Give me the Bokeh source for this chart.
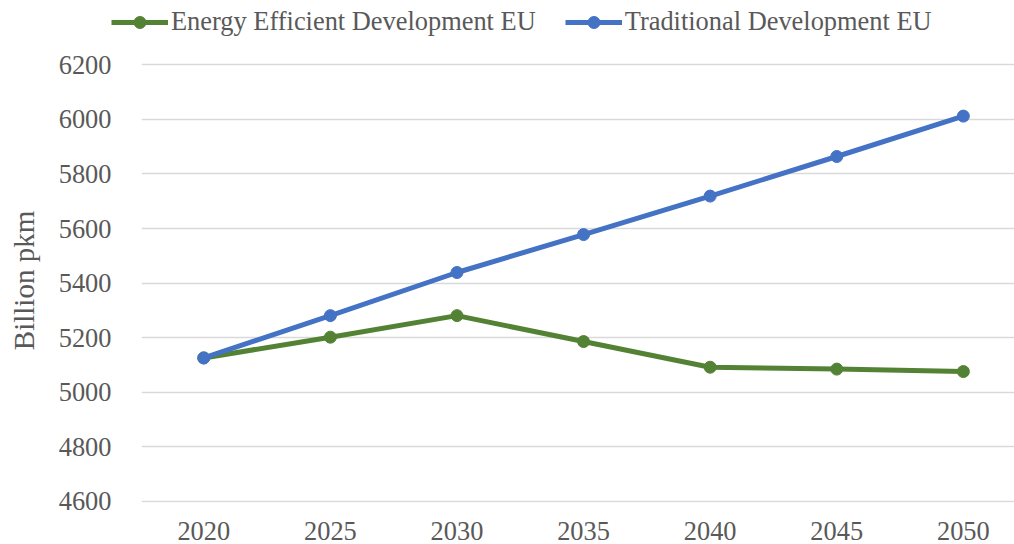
from bokeh.plotting import figure
from bokeh.layouts import column
from bokeh.models import Range1d, FixedTicker, Legend, LegendItem, ColumnDataSource
from bokeh.embed import file_html
from bokeh.resources import INLINE

years = [2020, 2025, 2030, 2035, 2040, 2045, 2050]
energy_efficient = [5126, 5202, 5281, 5186, 5092, 5085, 5076]
traditional = [5126, 5281, 5439, 5578, 5719, 5864, 6012]
y_ticks = [4600, 4800, 5000, 5200, 5400, 5600, 5800, 6000, 6200]
series_names = ["Energy Efficient Development EU", "Traditional Development EU"]

FONT = "Liberation Serif"
TEXT = "#595959"
GREEN = "#548235"
BLUE = "#4472C4"
FS = "26.4px"

src_e = ColumnDataSource(dict(x=years, y=energy_efficient))
src_t = ColumnDataSource(dict(x=years, y=traditional))

# ---- main chart ----
p = figure(width=1014, height=504, output_backend="svg", toolbar_location=None,
           x_range=Range1d(2017.54, 2052.02), y_range=Range1d(4596.3, 6223.1),
           min_border_left=141, min_border_right=0, min_border_top=18, min_border_bottom=42)
p.frame_align = False
p.outline_line_color = None
p.background_fill_color = "white"
p.border_fill_color = "white"

p.line("x", "y", source=src_e, line_width=5, line_color=GREEN, line_join="round")
p.scatter("x", "y", source=src_e, size=12, fill_color=GREEN, line_color=GREEN)
p.line("x", "y", source=src_t, line_width=5, line_color=BLUE, line_join="round")
p.scatter("x", "y", source=src_t, size=12, fill_color=BLUE, line_color=BLUE)

p.xaxis.ticker = FixedTicker(ticks=years)
p.yaxis.ticker = FixedTicker(ticks=y_ticks)
p.xgrid.grid_line_color = None
p.ygrid.grid_line_color = "#D9D9D9"
p.ygrid.grid_line_width = 1.5

for ax in (p.xaxis[0], p.yaxis[0]):
    ax.axis_line_color = None
    ax.major_tick_line_color = None
    ax.minor_tick_line_color = None
    ax.major_label_text_font = FONT
    ax.major_label_text_font_size = FS
    ax.major_label_text_color = TEXT

p.xaxis.major_label_standoff = 13
p.yaxis.major_label_standoff = 24
p.yaxis.axis_label = "Billion pkm"
p.yaxis.axis_label_text_font = FONT
p.yaxis.axis_label_text_font_size = "29px"
p.yaxis.axis_label_text_font_style = "normal"
p.yaxis.axis_label_text_color = TEXT
p.yaxis.axis_label_standoff = 16

# ---- legend strip (its renderers are hidden; only the legend is shown) ----
lg = figure(width=1014, height=40, output_backend="svg", toolbar_location=None,
            x_axis_type=None, y_axis_type=None,
            min_border_left=0, min_border_right=0, min_border_top=0, min_border_bottom=0)
lg.frame_align = False
lg.outline_line_color = None
lg.grid.visible = False
lg.border_fill_color = "white"
lg.background_fill_color = "white"

ll1 = lg.line("x", "y", source=src_e, line_width=5, line_color=GREEN, visible=False)
ls1 = lg.scatter("x", "y", source=src_e, size=12, fill_color=GREEN, line_color=GREEN, visible=False)
ll2 = lg.line("x", "y", source=src_t, line_width=5, line_color=BLUE, visible=False)
ls2 = lg.scatter("x", "y", source=src_t, size=12, fill_color=BLUE, line_color=BLUE, visible=False)

legend = Legend(items=[
    LegendItem(label=series_names[0], renderers=[ll1, ls1]),
    LegendItem(label=series_names[1], renderers=[ll2, ls2]),
], orientation="horizontal", location=(111, 3))
legend.label_text_font = FONT
legend.label_text_font_size = FS
legend.label_text_color = TEXT
legend.glyph_width = 57
legend.glyph_height = 30
legend.label_height = 30
legend.label_standoff = 3
legend.spacing = 29
legend.padding = 0
legend.margin = 0
legend.border_line_color = None
legend.background_fill_alpha = 0
lg.add_layout(legend)

layout = column(lg, p, spacing=0)
open("out.html", "w").write(file_html(layout, INLINE))
